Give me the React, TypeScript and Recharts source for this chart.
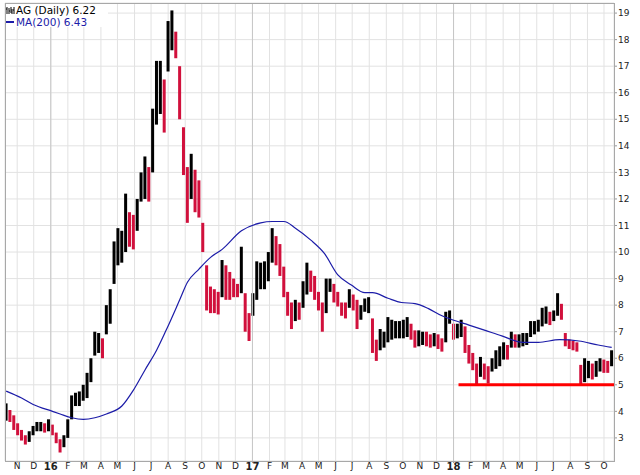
import React from "react";
import {
  ComposedChart,
  Bar,
  Line,
  XAxis,
  YAxis,
  CartesianGrid,
  ReferenceLine,
} from "recharts";

// weekly high/low of AG (week 0 = mid Oct 2015)
const WEEK_LOW = [
  3.65, 3.6, 3.3, 3.1, 2.9, 2.75, 2.85, 3.1, 3.25, 3.25, 3.2, 3.25, 3.1, 2.8, 2.45, 2.65,
  3.0, 3.7, 4.2, 4.2, 4.4, 4.5, 5.1, 6.1, 6.2, 6.0, 6.9, 7.3, 8.8, 9.5, 9.6, 10.0,
  10.2, 10.1, 10.8, 11.9, 12.0, 11.9, 13.0, 14.8, 15.2, 14.5, 16.8, 17.6, 17.3, 15.0,
  12.9, 11.1, 12.0, 11.5, 11.3, 10.0, 7.8, 7.7, 7.7, 7.65, 8.3, 8.2, 8.2, 8.3, 8.3,
  8.45, 7.0, 6.65, 7.6, 8.2, 8.6, 8.6, 8.9, 9.6, 9.5, 9.1, 8.3, 7.6, 7.1, 7.4, 7.45,
  7.9, 8.4, 8.5, 8.2, 7.8, 7.0, 7.7, 8.5, 8.1, 7.95, 7.6, 7.5, 7.9, 7.8, 7.1, 7.45,
  7.75, 7.7, 6.2, 5.9, 6.3, 6.4, 6.6, 6.7, 6.75, 6.75, 6.75, 6.8, 6.7, 6.4, 6.45, 6.5,
  6.45, 6.4, 6.45, 6.35, 6.25, 6.6, 7.3, 6.7, 6.75, 6.8, 6.2, 5.8, 5.55, 5.0, 5.3, 5.2,
  5.05, 5.5, 5.6, 5.7, 5.95, 5.95, 6.4, 6.4, 6.4, 6.45, 6.5, 6.8, 6.9, 7.0, 7.2, 7.3,
  7.25, 7.4, 7.6, 7.45, 6.45, 6.35, 6.3, 6.25, 5.0, 5.1, 5.25, 5.2, 5.3, 5.5, 5.45,
  5.45, 5.7,
];
const WEEK_HIGH = [
  4.3, 4.05, 3.85, 3.55, 3.3, 3.1, 3.25, 3.45, 3.6, 3.6, 3.55, 3.7, 3.5, 3.2, 2.95, 3.1,
  3.7, 4.6, 4.7, 4.75, 5.0, 5.45, 6.0, 7.0, 6.95, 6.75, 8.0, 8.6, 10.4, 10.9, 10.8, 12.2,
  11.5, 11.4, 12.0, 13.0, 13.6, 13.2, 15.4, 17.2, 17.2, 16.5, 18.7, 19.1, 18.3, 17.0,
  14.7, 13.2, 13.7, 13.1, 12.7, 11.1, 9.5, 8.7, 8.6, 8.5, 9.7, 9.5, 9.25, 9.0, 8.8,
  10.2, 8.45, 7.7, 8.45, 9.65, 9.6, 9.65, 10.0, 10.9, 10.6, 10.3, 9.45, 8.5, 8.1, 8.2, 8.1,
  8.9, 9.6, 9.3, 9.1, 8.5, 8.1, 9.0, 9.0, 8.8, 8.5, 8.1, 8.1, 8.6, 8.4, 8.2, 8.0,
  8.25, 8.3, 7.5, 6.7, 7.1, 7.0, 7.55, 7.45, 7.4, 7.4, 7.45, 7.55, 7.3, 7.05, 7.05, 7.0,
  7.0, 6.9, 6.95, 6.9, 6.75, 7.75, 7.8, 7.3, 7.3, 7.45, 7.2, 6.5, 6.2, 5.8, 6.05, 5.8,
  5.7, 6.0, 6.3, 6.45, 6.6, 6.5, 7.0, 6.9, 6.9, 6.95, 6.95, 7.4, 7.4, 7.45, 7.9, 7.95,
  7.75, 7.8, 8.45, 8.05, 6.95, 6.7, 6.65, 6.6, 5.75, 6.0, 5.9, 5.8, 5.9, 6.0, 5.95,
  5.9, 6.3,
];

// 200-day moving average, sampled along the curve (x in weeks)
const MA_WEEK = [
  0, 4, 7, 12, 14, 17, 20, 23, 26, 30, 33, 36, 39, 41.5, 45, 47, 50, 53, 56, 61, 66, 69,
  72, 75, 79, 82.5, 86, 89.5, 93, 95, 99, 102.5, 106, 109.5, 113, 115.5, 120, 124, 128.5,
  134, 138, 143.5, 148.5, 153.5, 157,
];
const MA_VALUE = [
  4.76, 4.5, 4.26, 4.0, 3.9, 3.76, 3.7, 3.76, 3.9, 4.2, 4.8, 5.56, 6.3, 7.06, 8.2, 8.86,
  9.36, 9.8, 10.1, 10.8, 11.1, 11.15, 11.15, 10.9, 10.45, 9.95, 9.14, 8.76, 8.47, 8.47,
  8.26, 8.1, 8.06, 7.87, 7.6, 7.46, 7.25, 7.06, 6.84, 6.6, 6.6, 6.7, 6.65, 6.5, 6.41,
];

const Y_TICKS = [3, 4, 5, 6, 7, 8, 9, 10, 11, 12, 13, 14, 15, 16, 17, 18, 19];
// month labels starting Nov 2015
const X_TICK_LABELS = [
  "N", "D", "16", "F", "M", "A", "M", "J", "J", "A", "S", "O", "N", "D",
  "17", "F", "M", "A", "M", "J", "J", "A", "S", "O", "N", "D",
  "18", "F", "M", "A", "M", "J", "J", "A", "S", "O",
];

const SUPPORT_LEVEL = 5;
const SUPPORT_START = Date.UTC(2018, 0, 10);

const START = Date.UTC(2015, 9, 12);
const WEEK_MS = 7 * 86400000;
const weekOf = (ms: number) => (ms - START) / WEEK_MS;

const X_MIN = -0.3;
const X_MAX = 157.6;
const X_TICKS = X_TICK_LABELS.map((_, k) => weekOf(Date.UTC(2015, 10 + k, 1)));
const YEAR_TICKS = X_TICKS.filter((_, k) => /^\d+$/.test(X_TICK_LABELS[k]));

const BLACK = "#000000";
const RED = "#d1103c";
const BLUE = "#1c1ca8";
const GRID = "#e2e2e2";
const FONT = "DejaVu Sans";
const BAR_W = 3;

const barData = WEEK_LOW.map((lo, i) => ({ w: i, range: [lo, WEEK_HIGH[i]] }));
const maData = MA_WEEK.map((w, i) => ({ w, ma: MA_VALUE[i] }));
const barColors = WEEK_LOW.map((lo, i) => {
  if (i === 0) return BLACK;
  const mid = (lo + WEEK_HIGH[i]) / 2;
  const prev = (WEEK_LOW[i - 1] + WEEK_HIGH[i - 1]) / 2;
  return mid < prev ? RED : BLACK;
});

// range bar drawn at a fixed width, centred on the bar's slot
function RangeBar(props: any) {
  const { x, y, width, height, index } = props;
  if (height == null || isNaN(y)) return null;
  const cx = x + width / 2;
  return (
    <rect
      x={cx - BAR_W / 2}
      y={y}
      width={BAR_W}
      height={Math.max(Math.abs(height), 1)}
      fill={barColors[index]}
    />
  );
}

function MonthTick(props: any) {
  const { x, y, payload } = props;
  const k = X_TICKS.findIndex((t) => Math.abs(t - payload.value) < 1e-6);
  const label = X_TICK_LABELS[k] ?? "";
  const isYear = /^\d+$/.test(label);
  return (
    <text
      x={x}
      y={y}
      dy="0.71em"
      textAnchor="middle"
      fontSize={isYear ? 10 : 9}
      fontWeight={isYear ? "bold" : "normal"}
      fontFamily={FONT}
      fill="#222"
    >
      {label}
    </text>
  );
}

export default function App() {
  return (
    <div style={{ position: "absolute", left: 0, top: 0, width: 640, height: 475, background: "#fff" }}>
      <ComposedChart
        width={640}
        height={475}
        data={barData}
        margin={{ top: 3, right: 0, bottom: 0, left: 5 }}
      >
        <CartesianGrid stroke={GRID} />
        {YEAR_TICKS.map((t) => (
          <ReferenceLine key={t} x={t} stroke="#c6c6c6" />
        ))}
        <XAxis
          dataKey="w"
          type="number"
          domain={[X_MIN, X_MAX]}
          ticks={X_TICKS}
          interval={0}
          allowDataOverflow
          axisLine={false}
          tickLine={{ stroke: "#999" }}
          tickSize={2}
          tickMargin={0}
          height={14}
          tick={<MonthTick />}
        />
        <YAxis
          orientation="right"
          type="number"
          domain={[2.13, 19.38]}
          ticks={Y_TICKS}
          allowDataOverflow
          width={26}
          axisLine={false}
          tickLine={{ stroke: "#999" }}
          tickSize={3}
          tickMargin={1}
          tick={{ fontSize: 9, fill: "#222", fontFamily: FONT }}
        />
        <Bar dataKey="range" barSize={4} shape={RangeBar} isAnimationActive={false} />
        <Line
          data={maData}
          dataKey="ma"
          type="monotone"
          stroke={BLUE}
          strokeWidth={1.2}
          dot={false}
          activeDot={false}
          isAnimationActive={false}
        />
        <ReferenceLine
          segment={[
            { x: weekOf(SUPPORT_START), y: SUPPORT_LEVEL },
            { x: X_MAX, y: SUPPORT_LEVEL },
          ]}
          stroke="#ff0000"
          strokeWidth={3}
        />
      </ComposedChart>

      {/* plot frame */}
      <div
        style={{
          position: "absolute",
          left: 5,
          top: 3,
          width: 610,
          height: 459,
          border: "1px solid #a8a8a8",
          boxSizing: "border-box",
          pointerEvents: "none",
        }}
      />

      {/* legend */}
      <div
        style={{
          position: "absolute",
          left: 6,
          top: 4,
          width: 102,
          height: 23,
          background: "#fff",
          fontFamily: FONT,
          fontSize: 10.5,
          lineHeight: "12px",
        }}
      >
        <div style={{ display: "flex", alignItems: "center", color: "#000" }}>
          <svg width={9} height={9} style={{ marginRight: 1 }}>
            <path d="M1 1V8M0 3H1M3 2V8M3 5H4M5 1V7M6 3V8M8 1V8M7 4H8" stroke="#000" strokeWidth={1} />
          </svg>
          <span>AG (Daily) 6.22</span>
        </div>
        <div style={{ display: "flex", alignItems: "center", color: BLUE }}>
          <span style={{ display: "inline-block", width: 8, height: 2, background: BLUE, marginRight: 2 }} />
          <span>MA(200) 6.43</span>
        </div>
      </div>
    </div>
  );
}
